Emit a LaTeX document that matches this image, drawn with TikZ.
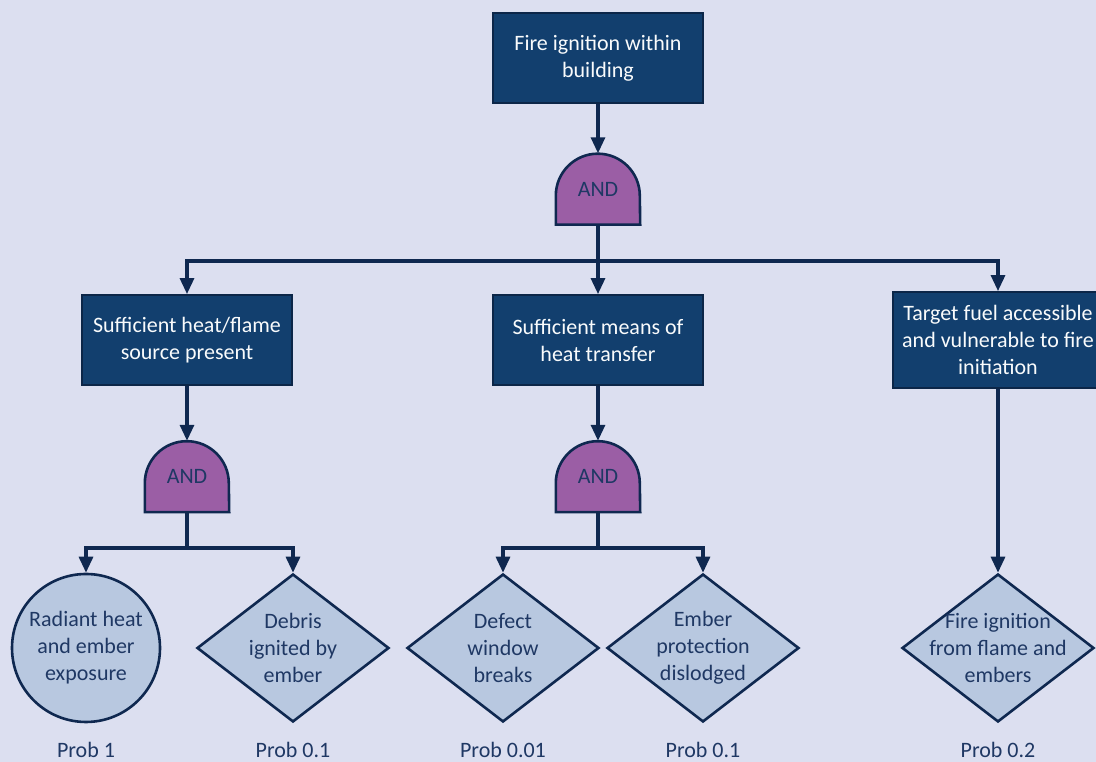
\documentclass[tikz,border=0pt]{standalone}
\usepackage{fontspec}
\setmainfont{Carlito}
\usetikzlibrary{arrows.meta,shapes.geometric}
\definecolor{ftback}{RGB}{220,223,240}
\definecolor{ftnavy}{RGB}{18,63,110}
\definecolor{ftedge}{RGB}{12,38,72}
\definecolor{ftline}{RGB}{15,40,80}
\definecolor{ftgate}{RGB}{155,94,165}
\definecolor{ftleaf}{RGB}{184,200,224}
\definecolor{fttext}{RGB}{31,56,100}
\pgfdeclarelayer{bg}
\pgfsetlayers{bg,main}

\begin{document}
\begin{tikzpicture}[x=1pt,y=1pt,
  every node/.style={font=\fontsize{22}{27}\selectfont},
  event/.style={rectangle, draw=ftedge, fill=ftnavy, line width=1.8pt, text=white!92!ftleaf,
    minimum width=210pt, minimum height=90pt, inner sep=0pt, align=center},
  gate/.style={rectangle, minimum width=84pt, minimum height=71pt, inner sep=0pt, text=fttext},
  leaf/.style={draw=ftline, fill=ftleaf, line width=2.6pt, text=fttext, inner sep=0pt, align=center},
  basic/.style={leaf, circle, minimum size=148pt},
  cond/.style={leaf, diamond, aspect=1.3, minimum width=192pt, minimum height=148pt},
  prob/.style={text=fttext, anchor=base},
  line/.style={draw=ftline, line width=3.2pt},
  link/.style={line, -{Triangle[length=16pt,width=14pt]}}
]
\useasboundingbox (0,0) rectangle (1096,762);

% Top event and first gate
\node[event] (top) at (598,704) {Fire ignition within\\building};
\node[gate] (g1) at (598,573) {AND};

% Intermediate events
\node[event] (b1) at (187,422) {Sufficient heat/flame\\source present};
\node[event] (b2) at (598,422) {Sufficient means of\\heat transfer};
\node[event, minimum height=96pt] (b3) at (998,422) {Target fuel accessible\\and vulnerable to fire\\initiation};

% Lower gates
\node[gate] (g2) at (187,285.5) {AND};
\node[gate] (g3) at (598,285.5) {AND};

% Basic events
\node[basic] (l1) at (86,114) {Radiant heat\\and ember\\exposure};
\node[cond] (l2) at (293,114) {Debris\\ignited by\\ember};
\node[cond] (l3) at (503,114) {Defect\\window\\breaks};
\node[cond] (l4) at (703,114) {Ember\\protection\\dislodged};
\node[cond, inner sep=-8pt] (l5) at (998,114) {Fire ignition\\from flame and\\embers};

% Probabilities
\node[prob] (p1) at (86,4) {Prob 1};
\node[prob] (p2) at (293,4) {Prob 0.1};
\node[prob] (p3) at (503,4) {Prob 0.01};
\node[prob] (p4) at (703,4) {Prob 0.1};
\node[prob] (p5) at (998,4) {Prob 0.2};

% Junctions
\coordinate (j1) at (598,501);
\coordinate (j2) at (187,214);
\coordinate (j3) at (598,214);

% Background and gate bodies
\begin{pgfonlayer}{bg}
  \fill[ftback] (0,0) rectangle (1096,762);
  \foreach \g in {g1,g2,g3}
    \draw[draw=ftline, fill=ftgate, line width=2.6pt]
      (\g.south west) -- ([yshift=29pt]\g.south west)
      arc[start angle=180, end angle=0, radius=42pt] -- (\g.south east) -- cycle;
\end{pgfonlayer}

% Connectors
\draw[link] (top) -- (g1);
\draw[line] (g1) -- (j1);
\draw[link] (j1) -| (b1);
\draw[link] (j1) -- (b2);
\draw[link] (j1) -| (b3);

\draw[link] (b1) -- (g2);
\draw[link] (b2) -- (g3);
\draw[line] (g2) -- (j2);
\draw[line] (g3) -- (j3);
\draw[link] (j2) -| (l1);
\draw[link] (j2) -| (l2);
\draw[link] (j3) -| (l3);
\draw[link] (j3) -| (l4);
\draw[link] (b3) -- (l5);
\end{tikzpicture}
\end{document}
